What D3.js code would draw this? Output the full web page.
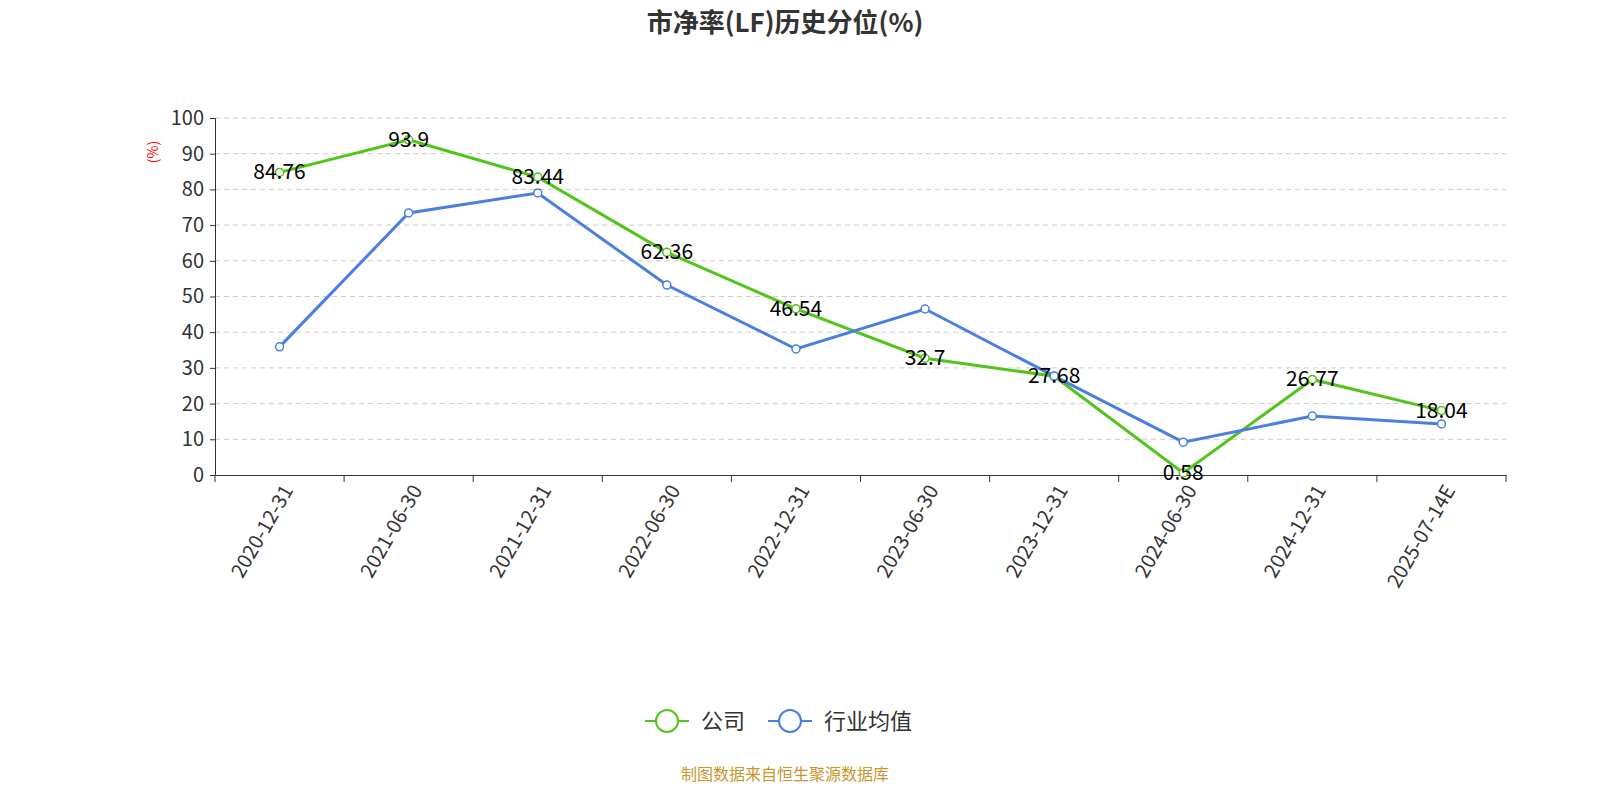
<!DOCTYPE html>
<html><head><meta charset="utf-8">
<script src="https://cdn.jsdelivr.net/npm/d3@7"></script>
<style>body{margin:0;background:#fff}text{font-family:"Noto Sans CJK SC","Noto Sans",sans-serif}</style>
</head><body><svg id="c" width="1600" height="800"></svg>
<script>
const categories = ["2020-12-31","2021-06-30","2021-12-31","2022-06-30","2022-12-31","2023-06-30","2023-12-31","2024-06-30","2024-12-31","2025-07-14E"];
const companyValues = [84.76,93.9,83.44,62.36,46.54,32.7,27.68,0.58,26.77,18.04];
const industryValues = [35.9,73.4,79.0,53.2,35.3,46.5,27.7,9.2,16.5,14.3];
const yTicks = [0,10,20,30,40,50,60,70,80,90,100];

const svg = d3.select("#c");
const plotLeft = 215, plotRight = 1506, plotTop = 118, plotBottom = 475;
const x = d3.scaleBand().domain(categories).range([plotLeft, plotRight]);
const y = d3.scaleLinear().domain([0,100]).range([plotBottom, plotTop]);

svg.append("text").attr("x",785).attr("y",32).attr("text-anchor","middle")
  .attr("font-size",26).attr("font-weight","bold").attr("fill","#333").text("市净率(LF)历史分位(%)");

// grid
svg.append("g").selectAll("line").data(yTicks.slice(1)).enter().append("line")
  .attr("x1",plotLeft).attr("x2",plotRight).attr("y1",d=>y(d)).attr("y2",d=>y(d))
  .attr("stroke","#ccc").attr("stroke-dasharray","5 4");

const ya = svg.append("g").attr("transform",`translate(${plotLeft},0)`)
  .call(d3.axisLeft(y).tickValues(yTicks).tickSize(5).tickPadding(6));
ya.selectAll("text").attr("font-size",20).attr("fill","#333");
ya.selectAll("line,path").attr("stroke","#333");
svg.append("text").attr("transform","translate(158,152) rotate(-90)").attr("text-anchor","middle")
  .attr("font-size",14).attr("fill","red").text("(%)");

const xa = svg.append("g").attr("transform",`translate(0,${plotBottom})`)
  .call(d3.axisBottom(x).tickSize(0).tickPadding(8));
xa.selectAll("path").attr("stroke","#333");
xa.selectAll("text").attr("font-size",20).attr("fill","#333")
  .attr("text-anchor","end").attr("dx","-0.3em").attr("dy","0.6em").attr("transform","rotate(-60)");
svg.append("g").selectAll("line").data(d3.range(categories.length+1)).enter().append("line")
  .attr("x1",i=>plotLeft+i*x.step()).attr("x2",i=>plotLeft+i*x.step()).attr("y1",plotBottom).attr("y2",plotBottom+7).attr("stroke","#333");

const cx = d => x(d)+x.bandwidth()/2;
function series(vals,color){
  const line = d3.line().x((d,i)=>cx(categories[i])).y(d=>y(d));
  svg.append("path").datum(vals).attr("d",line).attr("fill","none").attr("stroke",color).attr("stroke-width",3);
  svg.append("g").selectAll("circle").data(vals).enter().append("circle")
    .attr("cx",(d,i)=>cx(categories[i])).attr("cy",d=>y(d)).attr("r",4)
    .attr("fill","#fff").attr("stroke",color).attr("stroke-width",1.5);
}
series(companyValues,"#52c41a");
series(industryValues,"#4a7fe0");
svg.append("g").selectAll("text").data(companyValues).enter().append("text")
  .attr("x",(d,i)=>cx(categories[i])).attr("y",d=>y(d)+7).attr("text-anchor","middle")
  .attr("font-size",21).attr("fill","#000").text(d=>d);

const legend = [["公司","#52c41a",645],["行业均值","#4a7fe0",768]];
legend.forEach(([t,c,lx])=>{
  svg.append("line").attr("x1",lx).attr("x2",lx+44).attr("y1",721).attr("y2",721).attr("stroke",c).attr("stroke-width",2);
  svg.append("circle").attr("cx",lx+22).attr("cy",721).attr("r",11).attr("fill","#fff").attr("stroke",c).attr("stroke-width",2);
  svg.append("text").attr("x",lx+56).attr("y",729).attr("font-size",22).attr("fill","#333").text(t);
});
svg.append("text").attr("x",785).attr("y",780).attr("text-anchor","middle").attr("font-size",16).attr("fill","#c8962a").text("制图数据来自恒生聚源数据库");
</script></body></html>
